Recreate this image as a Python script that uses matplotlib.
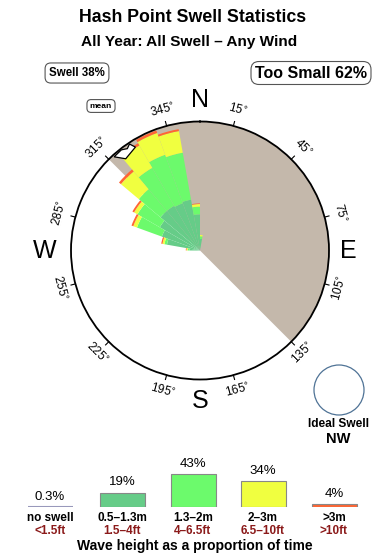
import matplotlib.pyplot as plt
import matplotlib.patches as mpatches
import numpy as np

plt.rcParams['font.family'] = ['Liberation Sans', 'DejaVu Sans']

# swell rose: direction bins (compass bearing of bin centre, 10 deg wide)
bearings = [275, 285, 295, 305, 315, 325, 335, 345, 355, 5]
# outer radius of each height class (fraction of the circle), cumulative
r_noswell = [0.0, 0.0, 0.0, 0.0, 0.015, 0.015, 0.0, 0.0, 0.0, 0.015]
r_small = [0.08, 0.26, 0.315, 0.36, 0.40, 0.40, 0.39, 0.40, 0.28, 0.09]
r_mid = [0.095, 0.28, 0.52, 0.56, 0.62, 0.74, 0.79, 0.77, 0.34, 0.11]
r_big = [0.105, 0.295, 0.55, 0.59, 0.80, 0.94, 0.97, 0.94, 0.36, 0.12]
r_huge = [0.11, 0.305, 0.565, 0.605, 0.82, 0.96, 0.99, 0.955, 0.365, 0.12]

too_small_from, too_small_to = 315, 135
mean_dir = 322
deg_labels = [15, 45, 75, 105, 135, 165, 195, 225, 255, 285, 315, 345]

# legend
classes = ['no swell', '0.5\u20131.3m', '1.3\u20132m', '2\u20133m', '>3m']
classes_ft = ['<1.5ft', '1.5\u20134ft', '4\u20136.5ft', '6.5\u201310ft', '>10ft']
class_pct = [0.3, 19, 43, 34, 4]
pct_text = ['0.3%', '19%', '43%', '34%', '4%']
colors = ['#9999bb', '#66cc88', '#6cfa6c', '#f0ff40', '#ff6633']
swell_pct, small_pct = 38, 62
ideal_dir = 'NW'

fig = plt.figure(figsize=(3.9, 5.6), dpi=100)
W, H = 390, 560

# --- rose ---
cx, cy, R = 200, 250.5, 129
ax = fig.add_axes([(cx - R) / W, (H - cy - R) / H, 2 * R / W, 2 * R / H], projection='polar')
ax.set_theta_zero_location('N')
ax.set_theta_direction(-1)
ax.set_ylim(0, 1)
ax.grid(False)
ax.set_xticks([])
ax.set_yticks([])
ax.spines['polar'].set_linewidth(1.3)

span = (too_small_to - too_small_from) % 360
ax.bar(np.deg2rad(too_small_from + span / 2), 1, width=np.deg2rad(span), color='#c4b8ab',
       edgecolor='none', zorder=1)

th = np.deg2rad(bearings)
wd = np.deg2rad(10)
layers = [r_noswell, r_small, r_mid, r_big, r_huge]
inner = np.zeros(len(bearings))
for lay, c in zip(layers, colors):
    outer = np.maximum(np.array(lay), inner)
    ax.bar(th, outer - inner, width=wd, bottom=inner, color=c, edgecolor='none', zorder=2)
    inner = outer

# mean direction marker
m = mean_dir
arrow = [(m - 4.5, 0.985), (m - 1, 0.915), (m + 6, 0.945), (m + 4.5, 0.99), (m + 2.5, 0.97), (m, 0.99)]
ax.add_patch(mpatches.Polygon([(np.deg2rad(a), r) for a, r in arrow], closed=True,
                              fc='white', ec='black', lw=0.9, zorder=4))

for d in deg_labels:
    t = np.deg2rad(d)
    ax.plot([t, t], [1.0, 1.035], color='black', lw=0.8, clip_on=False)
    rot = -d
    if 90 < d < 270:
        rot = 180 - d
    ax.text(t, 1.125, f'{d}$^{{\\circ}}$', rotation=rot, ha='center', va='center', fontsize=8.5,
            rotation_mode='anchor', clip_on=False)

for lab, d, rr in [('N', 0, 1.17), ('E', 90, 1.15), ('S', 180, 1.17), ('W', 270, 1.2)]:
    ax.text(np.deg2rad(d), rr, lab, ha='center', va='center', fontsize=18, clip_on=False)

# --- overlay for text ---
ov = fig.add_axes([0, 0, 1, 1], zorder=-1)
ov.set_xlim(0, W)
ov.set_ylim(H, 0)
ov.axis('off')

ov.text(193, 18, 'Hash Point Swell Statistics', ha='center', va='center', fontsize=12.8,
        fontweight='bold')
ov.text(189, 42, 'All Year: All Swell \u2013 Any Wind', ha='center', va='center', fontsize=11.1,
        fontweight='bold')

box = dict(boxstyle='round,pad=0.35,rounding_size=0.5', fc='white', ec='#555555', lw=0.8)
ov.text(77, 73, f'Swell {swell_pct}%', ha='center', va='center', fontsize=8.3,
        fontweight='bold', bbox=box)
ov.text(311, 73, f'Too Small {small_pct}%', ha='center', va='center', fontsize=11.5,
        fontweight='bold', bbox=dict(box, boxstyle='round,pad=0.25,rounding_size=0.5'))
ov.text(101, 106, 'mean', ha='center', va='center', fontsize=6, fontweight='bold', bbox=box)

ov.add_patch(mpatches.Circle((339, 390), 25, fc='none', ec='#4f7396', lw=0.9))
ov.text(338, 424, 'Ideal Swell', ha='center', va='center', fontsize=8.6, fontweight='bold')
ov.text(338, 439, ideal_dir, ha='center', va='center', fontsize=10.5, fontweight='bold')

ov.text(195, 546, 'Wave height as a proportion of time', ha='center', va='center',
        fontsize=10, fontweight='bold')

# --- legend bars ---
base = 507
lg = fig.add_axes([0, (H - base) / H, 1, 60 / H])
lg.set_xlim(0, W)
lg.set_ylim(0, 60 / 0.76)
lg.axis('off')
xs = [50, 122, 193, 263, 334]
lg.bar(xs, class_pct, width=45, color=colors, edgecolor=['#9999bb'] + ['#888888'] * 4,
       linewidth=[1.5, 0.8, 0.8, 0.8, 0.8], align='center')
for x, p, t in zip(xs, class_pct, pct_text):
    lg.annotate(t, (x, p), xytext=(0, 3), textcoords='offset points', ha='center',
                va='bottom', fontsize=9.5)
for x, a, b in zip(xs, classes, classes_ft):
    ov.text(x, 518, a, ha='center', va='center', fontsize=8.5, fontweight='bold')
    ov.text(x, 531, b, ha='center', va='center', fontsize=8.5, fontweight='bold', color='#8b1a1a')

fig.savefig('out.png', dpi=100)
